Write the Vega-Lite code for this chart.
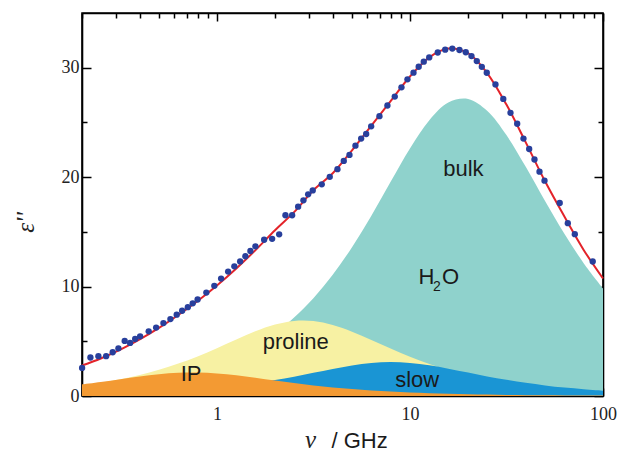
{
  "$schema": "https://vega.github.io/schema/vega-lite/v6.json",
  "width": 521,
  "height": 383,
  "autosize": {"type": "none"},
  "padding": {"left": 82, "top": 13, "right": 15, "bottom": 61},
  "background": "white",
  "config": {
    "view": {"stroke": "#000", "strokeWidth": 1.6},
    "axis": {"grid": false, "domain": true, "domainColor": "#000", "domainWidth": 1.6, "zindex": 1, "tickColor": "#000", "tickWidth": 1.5, "labelOverlap": false, "labelFlush": false}
  },
  "datasets": {
    "curves": [
      {"f": 0.2, "bulk": 0.58, "proline": 0.98, "slow": 0.16, "ip": 1.07, "total": 2.79},
      {"f": 0.25, "bulk": 0.73, "proline": 1.22, "slow": 0.19, "ip": 1.29, "total": 3.43},
      {"f": 0.316, "bulk": 0.92, "proline": 1.54, "slow": 0.24, "ip": 1.54, "total": 4.24},
      {"f": 0.398, "bulk": 1.16, "proline": 1.92, "slow": 0.31, "ip": 1.78, "total": 5.17},
      {"f": 0.501, "bulk": 1.46, "proline": 2.39, "slow": 0.39, "ip": 1.99, "total": 6.22},
      {"f": 0.631, "bulk": 1.83, "proline": 2.96, "slow": 0.49, "ip": 2.12, "total": 7.40},
      {"f": 0.794, "bulk": 2.31, "proline": 3.62, "slow": 0.61, "ip": 2.15, "total": 8.68},
      {"f": 1, "bulk": 2.90, "proline": 4.37, "slow": 0.76, "ip": 2.06, "total": 10.10},
      {"f": 1.26, "bulk": 3.65, "proline": 5.16, "slow": 0.95, "ip": 1.89, "total": 11.66},
      {"f": 1.58, "bulk": 4.56, "proline": 5.91, "slow": 1.18, "ip": 1.67, "total": 13.31},
      {"f": 2, "bulk": 5.75, "proline": 6.53, "slow": 1.46, "ip": 1.41, "total": 15.15},
      {"f": 2.51, "bulk": 7.17, "proline": 6.86, "slow": 1.77, "ip": 1.18, "total": 16.8},
      {"f": 3.16, "bulk": 8.94, "proline": 6.85, "slow": 2.12, "ip": 0.97, "total": 18.8},
      {"f": 3.98, "bulk": 11.08, "proline": 6.49, "slow": 2.47, "ip": 0.78, "total": 20.35},
      {"f": 5.01, "bulk": 13.60, "proline": 5.88, "slow": 2.79, "ip": 0.63, "total": 22.45},
      {"f": 6.31, "bulk": 16.48, "proline": 5.12, "slow": 3.02, "ip": 0.50, "total": 24.7},
      {"f": 7.94, "bulk": 19.57, "proline": 4.33, "slow": 3.10, "ip": 0.40, "total": 26.95},
      {"f": 10, "bulk": 22.62, "proline": 3.58, "slow": 3.02, "ip": 0.32, "total": 29.2},
      {"f": 12.6, "bulk": 25.21, "proline": 2.92, "slow": 2.81, "ip": 0.26, "total": 30.95},
      {"f": 15.8, "bulk": 26.82, "proline": 2.37, "slow": 2.50, "ip": 0.20, "total": 31.75},
      {"f": 20, "bulk": 27.14, "proline": 1.90, "slow": 2.14, "ip": 0.16, "total": 31.33},
      {"f": 25.1, "bulk": 26.06, "proline": 1.52, "slow": 1.79, "ip": 0.13, "total": 29.51},
      {"f": 31.6, "bulk": 23.84, "proline": 1.21, "slow": 1.48, "ip": 0.10, "total": 26.63},
      {"f": 39.8, "bulk": 20.94, "proline": 0.97, "slow": 1.20, "ip": 0.08, "total": 23.18},
      {"f": 50.1, "bulk": 17.82, "proline": 0.77, "slow": 0.97, "ip": 0.06, "total": 19.62},
      {"f": 63.1, "bulk": 14.82, "proline": 0.61, "slow": 0.77, "ip": 0.05, "total": 16.4},
      {"f": 79.4, "bulk": 12.14, "proline": 0.49, "slow": 0.62, "ip": 0.04, "total": 13.35},
      {"f": 100, "bulk": 9.83, "proline": 0.39, "slow": 0.49, "ip": 0.03, "total": 10.74}
    ],
    "measured": [
      {"f": 0.2002, "eps": 2.57}, {"f": 0.2211, "eps": 3.52}, {"f": 0.2432, "eps": 3.64}, {"f": 0.2667, "eps": 3.64},
      {"f": 0.2884, "eps": 4.0}, {"f": 0.3088, "eps": 4.36}, {"f": 0.3328, "eps": 5.03}, {"f": 0.355, "eps": 4.85},
      {"f": 0.377, "eps": 5.21}, {"f": 0.4, "eps": 5.45}, {"f": 0.4431, "eps": 5.91}, {"f": 0.4842, "eps": 6.25},
      {"f": 0.5282, "eps": 6.66}, {"f": 0.5741, "eps": 7.03}, {"f": 0.619, "eps": 7.43}, {"f": 0.6603, "eps": 7.79},
      {"f": 0.7066, "eps": 8.12}, {"f": 0.7491, "eps": 8.47}, {"f": 0.7943, "eps": 8.82}, {"f": 0.8813, "eps": 9.45},
      {"f": 0.9694, "eps": 10.07}, {"f": 1.051, "eps": 10.73}, {"f": 1.143, "eps": 11.37}, {"f": 1.231, "eps": 11.85},
      {"f": 1.319, "eps": 12.3}, {"f": 1.404, "eps": 12.77}, {"f": 1.491, "eps": 13.25}, {"f": 1.583, "eps": 13.68},
      {"f": 1.756, "eps": 14.28}, {"f": 1.932, "eps": 14.36}, {"f": 2.101, "eps": 14.77}, {"f": 2.264, "eps": 16.52},
      {"f": 2.453, "eps": 16.52}, {"f": 2.635, "eps": 17.3}, {"f": 2.806, "eps": 17.88}, {"f": 2.969, "eps": 18.43},
      {"f": 3.136, "eps": 18.79}, {"f": 3.491, "eps": 19.34}, {"f": 3.842, "eps": 20.03}, {"f": 4.211, "eps": 20.73},
      {"f": 4.54, "eps": 21.48}, {"f": 4.86, "eps": 22.03}, {"f": 5.22, "eps": 22.88}, {"f": 5.587, "eps": 23.52},
      {"f": 5.932, "eps": 23.94}, {"f": 6.295, "eps": 24.64}, {"f": 6.95, "eps": 25.57}, {"f": 7.644, "eps": 26.55},
      {"f": 8.342, "eps": 27.36}, {"f": 9.036, "eps": 28.21}, {"f": 9.706, "eps": 28.94}, {"f": 10.43, "eps": 29.55},
      {"f": 11.1, "eps": 30.09}, {"f": 11.79, "eps": 30.55}, {"f": 12.58, "eps": 30.94}, {"f": 13.93, "eps": 31.39},
      {"f": 15.22, "eps": 31.65}, {"f": 16.57, "eps": 31.75}, {"f": 18.05, "eps": 31.62}, {"f": 19.46, "eps": 31.41},
      {"f": 20.83, "eps": 31.06}, {"f": 22.19, "eps": 30.61}, {"f": 23.56, "eps": 30.08}, {"f": 25.0, "eps": 29.54},
      {"f": 27.73, "eps": 28.47}, {"f": 30.44, "eps": 27.15}, {"f": 33.17, "eps": 25.88}, {"f": 35.93, "eps": 24.88},
      {"f": 38.73, "eps": 23.52}, {"f": 41.46, "eps": 22.57}, {"f": 44.17, "eps": 21.61}, {"f": 46.88, "eps": 20.5},
      {"f": 49.77, "eps": 19.68}, {"f": 59.67, "eps": 17.64}, {"f": 65.73, "eps": 15.79}, {"f": 71.44, "eps": 14.79},
      {"f": 88.44, "eps": 12.29}
    ],
    "labels": [
      {"f": 18.9, "eps": 20.1, "text": "bulk"},
      {"f": 12.18, "eps": 10.25, "text": "H"},
      {"f": 16.21, "eps": 10.25, "text": "O"},
      {"f": 2.56, "eps": 4.27, "text": "proline"},
      {"f": 0.735, "eps": 1.36, "text": "IP"},
      {"f": 10.9, "eps": 0.85, "text": "slow"}
    ],
    "subscripts": [
      {"f": 13.8, "eps": 9.6, "text": "2"}
    ]
  },
  "resolve": {"axis": {"x": "independent", "y": "independent"}},
  "layer": [
    {
      "data": {"name": "curves"},
      "mark": {"type": "area", "interpolate": "catmull-rom", "color": "#8fd2cc"},
      "encoding": {
        "x": {
          "field": "f", "type": "quantitative",
          "scale": {"type": "log", "domain": [0.2, 100], "nice": false},
          "axis": {
            "orient": "bottom",
            "values": [0.2, 0.3, 0.4, 0.5, 0.6, 0.7, 0.8, 0.9, 1, 2, 3, 4, 5, 6, 7, 8, 9, 10, 20, 30, 40, 50, 60, 70, 80, 90, 100],
            "tickSize": {"condition": {"test": "datum.value == 1 || datum.value == 10 || datum.value == 100", "value": -8}, "value": -5},
            "labelExpr": "datum.value == 1 ? '1' : datum.value == 10 ? '10' : datum.value == 100 ? '100' : ''",
            "labelFont": "Liberation Serif", "labelFontSize": 18, "labelColor": "#222", "labelPadding": 17,
            "title": "ν", "titleFont": "Liberation Serif", "titleFontStyle": "italic", "titleFontWeight": "normal",
            "titleFontSize": 25, "titleColor": "#222", "titleX": 228, "titleY": 51, "titleAlign": "center", "titleBaseline": "alphabetic"
          }
        },
        "y": {
          "field": "bulk", "type": "quantitative",
          "scale": {"domain": [0, 35], "nice": false},
          "axis": {
            "orient": "left",
            "values": [0, 5, 10, 15, 20, 25, 30],
            "tickSize": {"condition": {"test": "datum.value % 10 == 0", "value": -9}, "value": -5},
            "labelExpr": "datum.value % 10 == 0 ? datum.label : ''",
            "labelFont": "Liberation Serif", "labelFontSize": 18, "labelColor": "#222", "labelPadding": 12,
            "title": "ε''", "titleFont": "Liberation Serif", "titleFontStyle": "italic", "titleFontWeight": "normal",
            "titleFontSize": 25, "titleColor": "#222", "titleAngle": -90, "titleX": -57, "titleY": 209,
            "titleAlign": "center", "titleBaseline": "middle"
          }
        }
      }
    },
    {
      "data": {"name": "curves"},
      "mark": {"type": "area", "interpolate": "catmull-rom", "color": "#f7f1a3"},
      "encoding": {
        "x": {
          "field": "f", "type": "quantitative",
          "scale": {"type": "log", "domain": [0.2, 100], "nice": false},
          "axis": {
            "orient": "top",
            "values": [0.2, 0.3, 0.4, 0.5, 0.6, 0.7, 0.8, 0.9, 1, 2, 3, 4, 5, 6, 7, 8, 9, 10, 20, 30, 40, 50, 60, 70, 80, 90, 100],
            "tickSize": {"condition": {"test": "datum.value == 1 || datum.value == 10 || datum.value == 100", "value": -8}, "value": -5},
            "labels": false,
            "title": "/  GHz", "titleFont": "Liberation Sans", "titleFontWeight": "normal", "titleFontSize": 22,
            "titleColor": "#1a1a1a", "titleX": 249, "titleY": 434, "titleAlign": "left", "titleBaseline": "alphabetic", "titleAngle": 0
          }
        },
        "y": {
          "field": "proline", "type": "quantitative",
          "scale": {"domain": [0, 35], "nice": false},
          "axis": {
            "orient": "right",
            "values": [0, 5, 10, 15, 20, 25, 30],
            "tickSize": {"condition": {"test": "datum.value % 10 == 0", "value": -9}, "value": -5},
            "labels": false,
            "title": null
          }
        }
      }
    },
    {
      "data": {"name": "curves"},
      "mark": {"type": "area", "interpolate": "catmull-rom", "color": "#1a95d4"},
      "encoding": {
        "x": {"field": "f", "type": "quantitative", "scale": {"type": "log", "domain": [0.2, 100], "nice": false}, "axis": null},
        "y": {"field": "slow", "type": "quantitative", "scale": {"domain": [0, 35], "nice": false}, "axis": null}
      }
    },
    {
      "data": {"name": "curves"},
      "mark": {"type": "area", "interpolate": "catmull-rom", "color": "#f39a33"},
      "encoding": {
        "x": {"field": "f", "type": "quantitative", "scale": {"type": "log", "domain": [0.2, 100], "nice": false}, "axis": null},
        "y": {"field": "ip", "type": "quantitative", "scale": {"domain": [0, 35], "nice": false}, "axis": null}
      }
    },
    {
      "data": {"name": "curves"},
      "mark": {"type": "line", "interpolate": "catmull-rom", "color": "#e3232a", "strokeWidth": 2},
      "encoding": {
        "x": {"field": "f", "type": "quantitative", "scale": {"type": "log", "domain": [0.2, 100], "nice": false}, "axis": null},
        "y": {"field": "total", "type": "quantitative", "scale": {"domain": [0, 35], "nice": false}, "axis": null}
      }
    },
    {
      "data": {"name": "measured"},
      "mark": {"type": "circle", "color": "#283f9c", "opacity": 1, "size": 40},
      "encoding": {
        "x": {"field": "f", "type": "quantitative", "scale": {"type": "log", "domain": [0.2, 100], "nice": false}, "axis": null},
        "y": {"field": "eps", "type": "quantitative", "scale": {"domain": [0, 35], "nice": false}, "axis": null}
      }
    },
    {
      "data": {"name": "labels"},
      "mark": {"type": "text", "font": "Liberation Sans", "fontSize": 22, "color": "#1a1a1a", "align": "center", "baseline": "alphabetic"},
      "encoding": {
        "x": {"field": "f", "type": "quantitative", "scale": {"type": "log", "domain": [0.2, 100], "nice": false}, "axis": null},
        "y": {"field": "eps", "type": "quantitative", "scale": {"domain": [0, 35], "nice": false}, "axis": null},
        "text": {"field": "text"}
      }
    },
    {
      "data": {"name": "subscripts"},
      "mark": {"type": "text", "font": "Liberation Sans", "fontSize": 14, "color": "#1a1a1a", "align": "center", "baseline": "alphabetic"},
      "encoding": {
        "x": {"field": "f", "type": "quantitative", "scale": {"type": "log", "domain": [0.2, 100], "nice": false}, "axis": null},
        "y": {"field": "eps", "type": "quantitative", "scale": {"domain": [0, 35], "nice": false}, "axis": null},
        "text": {"field": "text"}
      }
    }
  ]
}
